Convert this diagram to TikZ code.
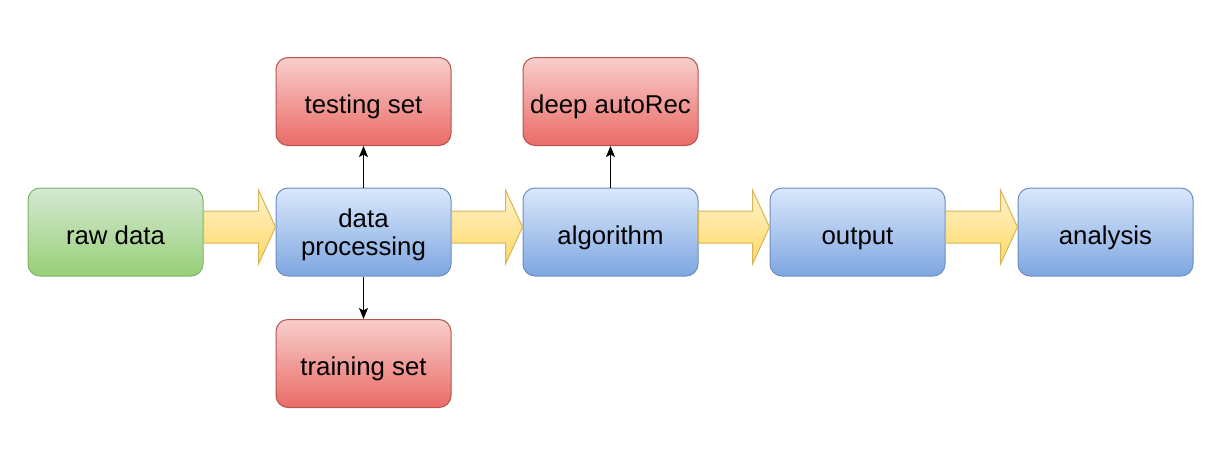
\documentclass[tikz,border=0pt]{standalone}
\usepackage{fontspec}
\setmainfont{Liberation Sans}
\usetikzlibrary{arrows.meta, positioning, calc}
\definecolor{greentop}{HTML}{D5E8D4}
\definecolor{greenbot}{HTML}{97D077}
\definecolor{greenline}{HTML}{82B366}
\definecolor{bluetop}{HTML}{DAE8FC}
\definecolor{bluebot}{HTML}{7EA6E0}
\definecolor{blueline}{HTML}{6C8EBF}
\definecolor{redtop}{HTML}{F8CECC}
\definecolor{redbot}{HTML}{EA6B66}
\definecolor{redline}{HTML}{B85450}
\definecolor{yeltop}{HTML}{FFF2CC}
\definecolor{yelbot}{HTML}{FFD966}
\definecolor{yelline}{HTML}{D6B656}

\begin{document}
\begin{tikzpicture}[
        x=0.5pt, y=-0.5pt,
        box/.style={rectangle, rounded corners=6pt, minimum width=87.5pt, minimum height=44pt, align=center,
            line width=0.5pt, text height=12pt, text depth=0pt, font=\fontsize{12.9}{14}\selectfont},
        twoline/.style={text height=23pt},
        rawbox/.style={box, draw=greenline, top color=greentop, bottom color=greenbot},
        stepbox/.style={box, draw=blueline, top color=bluetop, bottom color=bluebot},
        setbox/.style={box, draw=redline, top color=redtop, bottom color=redbot},
        flow/.style={draw=yelline, line width=0.5pt, top color=yeltop, bottom color=yelbot},
        arrow/.style={-{Stealth[length=5.5pt, width=4.5pt, inset=1.2pt]}, line width=0.7pt}
    ]
        \useasboundingbox[fill=white] (0,0) rectangle (1228,456);

        % Row 1: sets and model
        \node[setbox] (test) at (363.5,101.5) {testing set};
        \node[setbox] (deep) at (610.5,101.5) {deep autoRec};

        % Row 2: pipeline
        \node[rawbox] (raw) at (115.5,232) {raw data};
        \node[stepbox, twoline] (proc) at (363.5,232) {data\\processing};
        \node[stepbox] (algo) at (610.5,232) {algorithm};
        \node[stepbox] (out) at (857.5,232) {output};
        \node[stepbox] (ana) at (1105.5,232) {analysis};

        % Row 3: training data
        \node[setbox] (train) at (363.5,363.5) {training set};

        % Block arrows along the pipeline
        \foreach \a/\b in {raw/proc, proc/algo, algo/out, out/ana}
            \draw[flow] ($(\a.east)+(0,-21)$) -- ($(\b.west)+(-17,-21)$) -- ($(\b.west)+(-17,-42)$)
                -- ($(\b.west)+(0,-5)$) -- ($(\b.west)+(-17,32)$) -- ($(\b.west)+(-17,11)$)
                -- ($(\a.east)+(0,11)$) -- cycle;

        % Arrows - split and model
        \draw[arrow] (proc) -- (test);
        \draw[arrow] (proc) -- (train);
        \draw[arrow] (algo) -- (deep);
    \end{tikzpicture}
\end{document}
